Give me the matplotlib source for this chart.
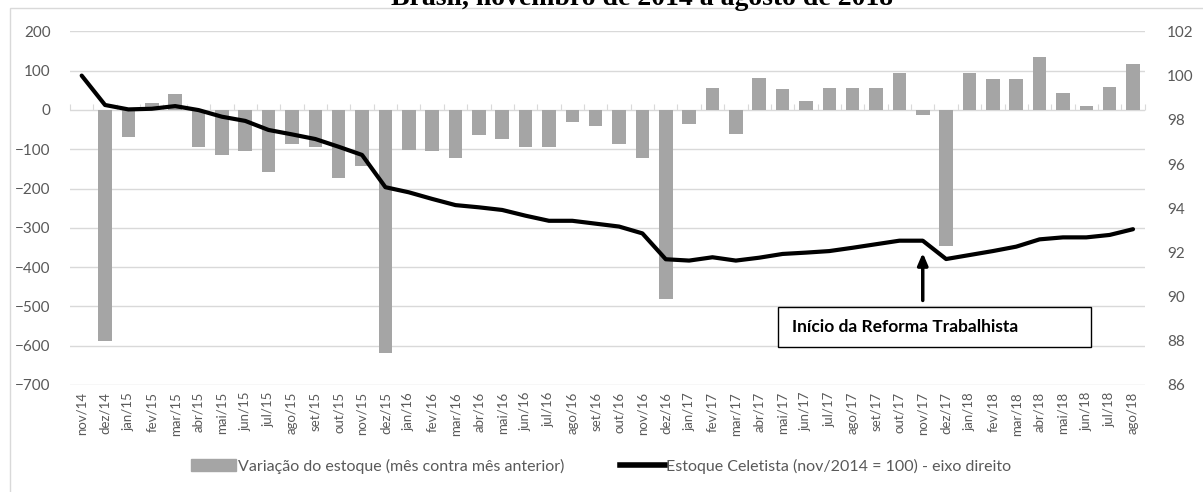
import matplotlib
matplotlib.use("Agg")
from matplotlib import pyplot as plt
from matplotlib.patches import Rectangle
import numpy as np

plt.rcParams['font.family'] = ['Lato', 'DejaVu Sans']

meses = ["nov/14", "dez/14",
         "jan/15", "fev/15", "mar/15", "abr/15", "mai/15", "jun/15",
         "jul/15", "ago/15", "set/15", "out/15", "nov/15", "dez/15",
         "jan/16", "fev/16", "mar/16", "abr/16", "mai/16", "jun/16",
         "jul/16", "ago/16", "set/16", "out/16", "nov/16", "dez/16",
         "jan/17", "fev/17", "mar/17", "abr/17", "mai/17", "jun/17",
         "jul/17", "ago/17", "set/17", "out/17", "nov/17", "dez/17",
         "jan/18", "fev/18", "mar/18", "abr/18", "mai/18", "jun/18",
         "jul/18", "ago/18"]

# variacao do estoque (milhares), eixo esquerdo
variacao = [0, -588, -70, 18, 40, -93, -115, -104, -157, -86, -93, -172,
            -142, -619, -101, -104, -122, -63, -74, -93, -93, -30, -40,
            -86, -122, -481, -36, 55, -62, 82, 53, 23, 55, 55, 55, 93,
            -13, -346, 93, 78, 78, 135, 44, 10, 58, 116]

# estoque celetista (nov/2014 = 100), eixo direito
estoque = [100, 98.67, 98.47, 98.5, 98.62, 98.44, 98.14, 97.95, 97.54,
           97.34, 97.13, 96.78, 96.41, 94.95, 94.72, 94.42, 94.14, 94.04,
           93.92, 93.66, 93.43, 93.43, 93.3, 93.17, 92.86, 91.69, 91.63,
           91.78, 91.63, 91.76, 91.93, 91.99, 92.06, 92.21, 92.37, 92.53,
           92.53, 91.7, 91.88, 92.06, 92.26, 92.59, 92.68, 92.68, 92.79,
           93.05]

W, H = 1203, 492
cinza_txt = "#595959"
cinza_grid = "#D9D9D9"

fig = plt.figure(figsize=(W / 100, H / 100), dpi=100)
ax = fig.add_axes([70 / W, 1 - 385 / H, 1074.7 / W, 353.6 / H])
x = np.arange(len(meses))

ax.bar(x, variacao, width=0.58, color="#A5A5A5", zorder=2)
ax.set_ylim(-700, 200)
ax.set_yticks(np.arange(-700, 201, 100))
ax.set_xlim(-0.5, len(meses) - 0.5)
ax.set_xticks(x)
ax.set_xticklabels(meses, rotation=90, fontsize=9.5, color=cinza_txt)
ax.tick_params(axis='x', length=0, pad=5)
ax.tick_params(axis='y', length=0, pad=14, labelsize=11, labelcolor=cinza_txt)
ax.grid(axis='y', color=cinza_grid, lw=1, zorder=0)
for s in ax.spines.values():
    s.set_visible(False)

# eixo horizontal na linha do zero, com marcas entre as categorias
eixo0 = ax.secondary_xaxis(700 / 900)
eixo0.set_xticks(np.arange(-0.5, len(meses), 1))
eixo0.set_xticklabels([])
eixo0.tick_params(axis='x', length=4, color=cinza_grid, direction='out')
eixo0.spines['bottom'].set_color(cinza_grid)
for s in ['top', 'left', 'right']:
    eixo0.spines[s].set_visible(False)

ax2 = ax.twinx()
ax2.plot(x, estoque, color="black", lw=3, solid_capstyle='round', zorder=3)
ax2.set_ylim(86, 102)
ax2.set_yticks(np.arange(86, 103, 2))
ax2.tick_params(axis='y', length=0, pad=16, labelsize=11, labelcolor=cinza_txt)
for s in ax2.spines.values():
    s.set_visible(False)

# anotacao da reforma trabalhista
ax2.annotate("", xy=(36, 92.1), xytext=(36, 89.7),
             arrowprops=dict(arrowstyle="-|>,head_length=0.7,head_width=0.3",
                             color="black", lw=2.5))
ax.add_patch(Rectangle((0.6588, 0.1075), 0.2912, 0.1131, transform=ax.transAxes,
                       facecolor="white", edgecolor="black", lw=1, zorder=5))
ax.text(0.6718, 0.164, "Início da Reforma Trabalhista", transform=ax.transAxes,
        fontsize=12.5, fontweight='bold', va='center', ha='left', zorder=6)

# moldura do grafico
fig.patches.append(Rectangle((9.5 / W, -0.1), 1.2, 1 - 8 / H + 0.1,
                             transform=fig.transFigure, fill=False,
                             edgecolor=cinza_grid, lw=1))

# titulo cortado no topo, como no original
fig.text(642 / W, 1 - 5 / H, "Brasil, novembro de 2014 a agosto de 2018",
         family=['Liberation Serif', 'DejaVu Serif'], fontweight='bold',
         fontsize=20, ha='center', va='baseline')

handles = [Rectangle((0, 0), 1, 1, color="#A5A5A5"),
           plt.Line2D([], [], color="black", lw=4)]
fig.legend(handles, ["Variação do estoque (mês contra mês anterior)",
                     "Estoque Celetista (nov/2014 = 100) - eixo direito"],
           loc='center', bbox_to_anchor=(0.5, 26 / H), ncol=2, frameon=False,
           fontsize=11.5, labelcolor=cinza_txt, columnspacing=3.5,
           handlelength=2.8, handletextpad=0.1)

fig.savefig("out.png", dpi=100)
